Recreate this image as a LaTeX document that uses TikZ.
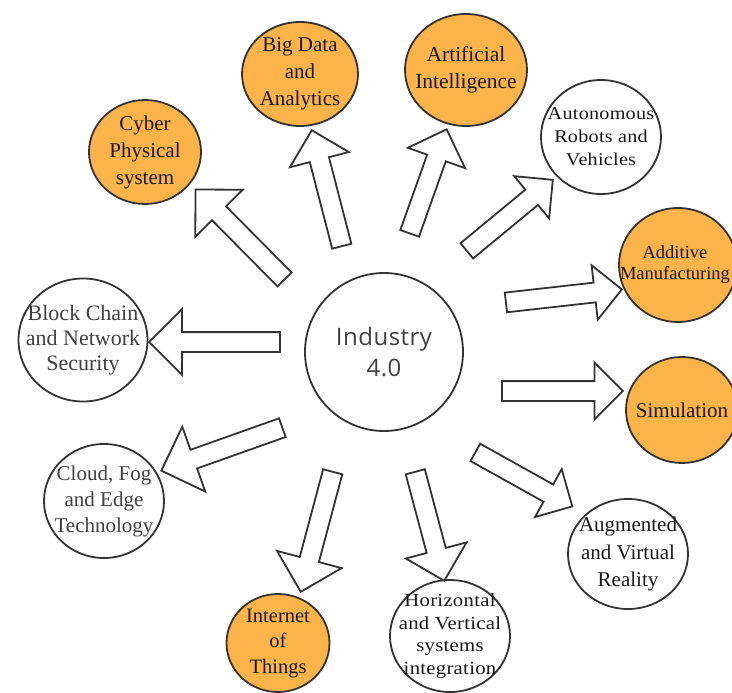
\documentclass[tikz,border=0pt]{standalone}
\usepackage{fontspec}
\setmainfont{Liberation Serif}
\newfontfamily\hubfont[LetterSpace=2]{Open Sans}
\newfontfamily\spacedfont[FakeStretch=1.12, LetterSpace=1.5]{Liberation Serif}
\usetikzlibrary{shapes.geometric, shapes.arrows, calc}

\definecolor{linegray}{RGB}{51,51,51}
\definecolor{textgray}{RGB}{64,64,64}
\definecolor{hotorange}{RGB}{252,180,74}

% hollow arrow from an offset of the hub to an offset of a topic node
\newcommand{\blockarrow}[4][]{%
  \path let \p1 = ($(hub)+(#2)$), \p2 = ($(#3)+(#4)$), \p3 = ($(\p2)-(\p1)$),
            \n1 = {veclen(\x3,\y3)}, \n2 = {atan2(\y3,\x3)} in
    node [fatarrow, #1, minimum height=\n1, rotate=\n2] at ($(\p1)!0.5!(\p2)$) {};}

\begin{document}
\begin{tikzpicture}[x=1pt, y=-1pt,
    sat/.style={ellipse, draw=linegray, line width=1.8pt, inner sep=0pt},
    hot/.style={sat, fill=hotorange},
    cool/.style={sat, fill=white},
    dark/.style={align=center, text=black!90},
    pale/.style={align=center, text=textgray},
    fatarrow/.style={single arrow, draw=linegray, fill=white, line width=1.8pt,
                     inner sep=9pt, single arrow head extend=20pt}]

  \useasboundingbox (0,0) rectangle (732,693);

  % hub
  \node [circle, draw=linegray, line width=1.8pt, minimum size=158pt, align=center,
         text=textgray, font=\hubfont\fontsize{24}{31}\selectfont] (hub) at (384,352)
        {Industry\\4.0};

  % topics
  \node [hot, minimum width=112pt, minimum height=104pt,
         label={[dark, font=\fontsize{21}{27}\selectfont]center:{Cyber\\Physical\\system}}]
        (cyber) at (145,152) {};
  \node [hot, minimum width=116pt, minimum height=104pt,
         label={[dark, font=\fontsize{21}{27}\selectfont]center:{Big Data\\and\\Analytics}}]
        (bigdata) at (300,74) {};
  \node [hot, minimum width=122pt, minimum height=112pt,
         label={[dark, font=\fontsize{21.5}{27}\selectfont]center:{Artificial\\Intelligence}}]
        (ai) at (466,70) {};
  \node [cool, minimum width=120pt, minimum height=114pt,
         label={[dark, font=\spacedfont\fontsize{18}{23}\selectfont]center:{Autonomous\\Robots and\\Vehicles}}]
        (robots) at (601,137) {};
  \node [hot, minimum width=118pt, minimum height=114pt,
         label={[dark, font=\fontsize{18.5}{21}\selectfont, xshift=-3pt]center:{Additive\\Manufacturing}}]
        (additive) at (678,265) {};
  \node [hot, minimum width=112pt, minimum height=106pt,
         label={[dark, font=\fontsize{21}{27}\selectfont]center:{Simulation}}]
        (simulation) at (682,410) {};
  \node [cool, minimum width=120pt, minimum height=110pt,
         label={[dark, font=\fontsize{21}{27.5}\selectfont]center:{Augmented\\and Virtual\\Reality}}]
        (augmented) at (628,554) {};
  \node [cool, minimum width=120pt, minimum height=112pt,
         label={[dark, font=\spacedfont\fontsize{18.5}{22.5}\selectfont]center:{Horizontal\\and Vertical\\systems\\integration}}]
        (integration) at (450,636) {};
  \node [hot, minimum width=103pt, minimum height=98pt,
         label={[dark, font=\fontsize{20.5}{25.5}\selectfont]center:{Internet\\of\\Things}}]
        (iot) at (278,643) {};
  \node [cool, minimum width=120pt, minimum height=114pt,
         label={[pale, font=\fontsize{21}{26}\selectfont]center:{Cloud, Fog\\and Edge\\Technology}}]
        (cloud) at (104,501) {};
  \node [cool, minimum width=129pt, minimum height=123pt,
         label={[pale, font=\fontsize{22}{25}\selectfont]center:{Block Chain\\and Network\\Security}}]
        (blockchain) at (83,340) {};

  % arrows
  \blockarrow[single arrow head extend=23.5pt]{-96,-69}{cyber}{54,41}
  \blockarrow[single arrow head extend=20.5pt]{-41,-101}{bigdata}{13,61}
  \blockarrow[single arrow head extend=20.5pt]{24,-114}{ai}{-21,64}
  \blockarrow[single arrow head extend=17.5pt]{79,-98}{robots}{-52,46}
  \blockarrow[single arrow head extend=17.5pt]{117,-49}{additive}{-61,25}
  \blockarrow[single arrow head extend=18.5pt]{113,39}{simulation}{-64,-19}
  \blockarrow[single arrow head extend=17.5pt]{87,98}{augmented}{-60,-50}
  \blockarrow[single arrow head extend=21.5pt]{30,115}{integration}{-7,-60}
  \blockarrow[single arrow head extend=23.5pt]{-50,115}{iot}{24,-56}
  \blockarrow[single arrow head extend=24.5pt]{-97,74}{cloud}{62,-32}
  \blockarrow[single arrow head extend=23pt]{-99,-10}{blockchain}{71,2}
\end{tikzpicture}
\end{document}
